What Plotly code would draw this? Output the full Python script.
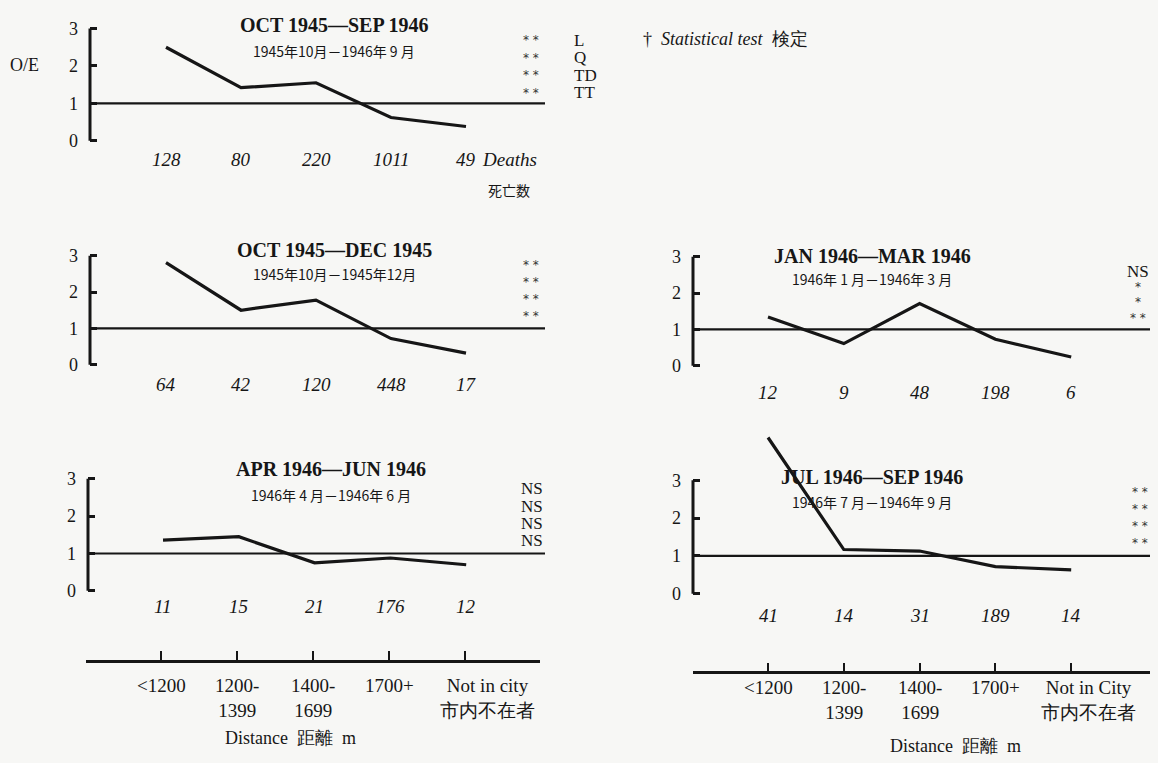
import plotly.graph_objects as go

W, H = 1158, 763

# ---- data -------------------------------------------------------------
distance_labels = ["<1200", "1200-<br>1399", "1400-<br>1699", "1700+"]
not_in_city_a = "Not in city<br>市内不在者"
not_in_city_b = "Not in City<br>市内不在者"

titles = ["OCT 1945—SEP 1946", "OCT 1945—DEC 1945", "APR 1946—JUN 1946",
          "JAN 1946—MAR 1946", "JUL 1946—SEP 1946"]
subtitles = ["1945年10月－1946年 9 月", "1945年10月－1945年12月",
             "1946年 4 月－1946年 6 月", "1946年 1 月－1946年 3 月",
             "1946年 7 月－1946年 9 月"]

oe_oct_sep = [2.50, 1.42, 1.55, 0.62, 0.38]
oe_oct_dec = [2.81, 1.50, 1.78, 0.72, 0.32]
oe_apr_jun = [1.36, 1.45, 0.75, 0.88, 0.70]
oe_jan_mar = [1.34, 0.61, 1.71, 0.73, 0.24]
oe_jul_sep = [4.13, 1.17, 1.13, 0.72, 0.63]

deaths_oct_sep = [128, 80, 220, 1011, 49]
deaths_oct_dec = [64, 42, 120, 448, 17]
deaths_apr_jun = [11, 15, 21, 176, 12]
deaths_jan_mar = [12, 9, 48, 198, 6]
deaths_jul_sep = [41, 14, 31, 189, 14]

tests = ["L", "Q", "TD", "TT"]
sig_oct_sep = ["**", "**", "**", "**"]
sig_oct_dec = ["**", "**", "**", "**"]
sig_apr_jun = ["NS", "NS", "NS", "NS"]
sig_jan_mar = ["NS", "*", "*", "**"]
sig_jul_sep = ["**", "**", "**", "**"]

INK = "#161616"
SERIF = "Liberation Serif"
CJK = "Noto Sans CJK JP"

# ---- panel geometry (pixels) -------------------------------------------
# x0/x1: extent of the reference line, first/step: category spacing,
# zero/ppu: pixel row of O/E = 0 and pixels per unit, ytop: top of range
panels = [
    dict(oe=oe_oct_sep, deaths=deaths_oct_sep, sig=sig_oct_sep,
         x0=90, x1=545, first=166, step=75, zero=137, ppu=38, ytop=3.1,
         doff=19, title_xy=(334, 19), sub_y=46, sig_x=531, sig_y=35, sig_dy=17.7),
    dict(oe=oe_oct_dec, deaths=deaths_oct_dec, sig=sig_oct_dec,
         x0=90, x1=545, first=166, step=75, zero=365, ppu=37, ytop=3.1,
         doff=20, title_xy=(334, 248), sub_y=273, sig_x=531, sig_y=263, sig_dy=17.5),
    dict(oe=oe_apr_jun, deaths=deaths_apr_jun, sig=sig_apr_jun,
         x0=88, x1=545, first=163, step=75.8, zero=595, ppu=38, ytop=3.1,
         doff=16, title_xy=(331, 471), sub_y=497, sig_x=532, sig_y=491, sig_dy=17.7),
    dict(oe=oe_jan_mar, deaths=deaths_jan_mar, sig=sig_jan_mar,
         x0=693, x1=1150, first=768, step=75.8, zero=366, ppu=37, ytop=3.1,
         doff=27, title_xy=(872, 254), sub_y=278, sig_x=1138, sig_y=270, sig_dy=15.7),
    dict(oe=oe_jul_sep, deaths=deaths_jul_sep, sig=sig_jul_sep,
         x0=693, x1=1150, first=768, step=75.8, zero=598, ppu=38.5, ytop=4.3,
         doff=22, title_xy=(872, 479), sub_y=505, sig_x=1140, sig_y=494, sig_dy=17.3),
]


def px(x):
    return x / W


def py(y):
    return 1 - y / H


def label(x, y, text, size=18, family=SERIF, xanchor="center", color=INK, **kw):
    """Text placed by pixel position on the page."""
    return dict(x=px(x), y=py(y), xref="paper", yref="paper", text=text,
                xanchor=xanchor, yanchor="middle", showarrow=False,
                font=dict(family=family, size=size, color=color), **kw)


fig = go.Figure()
layout = dict(
    width=W, height=H, margin=dict(l=0, r=0, t=0, b=0),
    paper_bgcolor="#f7f7f5", plot_bgcolor="rgba(0,0,0,0)",
    showlegend=False,
)
annotations = []
shapes = []

for i, p in enumerate(panels, start=1):
    xn = "x" if i == 1 else f"x{i}"
    yn = "y" if i == 1 else f"y{i}"
    xr = [(p["x0"] - p["first"]) / p["step"], (p["x1"] - p["first"]) / p["step"]]
    ylo = -0.1
    layout[f"xaxis{i}"] = dict(
        domain=[px(p["x0"]), px(p["x1"])], range=xr, anchor=yn, visible=False,
    )
    layout[f"yaxis{i}"] = dict(
        domain=[py(p["zero"] - ylo * p["ppu"]), py(p["zero"] - p["ytop"] * p["ppu"])],
        range=[ylo, p["ytop"]], anchor=xn,
        tickvals=[0, 1, 2, 3], ticks="inside", ticklen=7, tickwidth=2.5,
        tickcolor=INK, showline=False, showgrid=False, zeroline=False,
        ticklabelstandoff=11, tickfont=dict(family=SERIF, size=18, color=INK),
    )
    # O/E curve
    fig.add_trace(go.Scatter(
        x=list(range(len(p["oe"]))), y=p["oe"], mode="lines",
        line=dict(color=INK, width=3.2), xaxis=xn, yaxis=yn, hoverinfo="skip",
    ))
    # axis bracket 0..3 and the O/E = 1 reference line
    shapes.append(dict(type="line", xref=f"{xn} domain", yref=yn,
                       x0=0, x1=0, y0=0, y1=3, line=dict(color=INK, width=3)))
    shapes.append(dict(type="line", xref=f"{xn} domain", yref=yn,
                       x0=0, x1=1, y0=1, y1=1, line=dict(color=INK, width=2.2)))
    # death counts under each category
    for j, d in enumerate(p["deaths"]):
        annotations.append(dict(
            x=j, y=0, xref=xn, yref=yn, yshift=-p["doff"], text=f"<i>{d}</i>",
            xanchor="center", yanchor="middle", showarrow=False,
            font=dict(family=SERIF, size=19, color=INK),
        ))
    # titles
    tx, ty = p["title_xy"]
    annotations.append(label(tx, ty, f"<b>{titles[i-1]}</b>", size=20))
    annotations.append(label(tx, p["sub_y"], subtitles[i-1], size=14, family=CJK))
    # significance marks
    for k, s in enumerate(p["sig"]):
        is_ns = s == "NS"
        annotations.append(label(p["sig_x"], p["sig_y"] + k * p["sig_dy"],
                                 s if is_ns else " ".join(s),
                                 size=17 if is_ns else 12,
                                 family=SERIF if is_ns else "DejaVu Sans",
                                 color=INK if is_ns else "#333333"))

# "Deaths" caption and test names on the first panel
annotations.append(dict(x=4, y=0, xref="x", yref="y", yshift=-19, xshift=14,
                        xanchor="left", yanchor="middle", text="<i>Deaths</i>",
                        showarrow=False, font=dict(family=SERIF, size=19, color=INK)))
annotations.append(label(509, 187, "死亡数", size=14, family=CJK))
for k, t in enumerate(tests):
    annotations.append(label(572, 35 + k * 17.7, t, size=17, xanchor="left"))
annotations.append(label(24, 60, "O/E"))
annotations.append(label(641, 34, "†  <i>Statistical test</i>  検定", size=18,
                         xanchor="left"))

# ---- distance axes under the bottom panels -----------------------------
dist_axes = [
    dict(n=6, x0=86, x1=540, first=161, step=76, line_y=665, lab_y=679,
         last=not_in_city_a, last_shift=22, cap_xy=(290, 745)),
    dict(n=7, x0=693, x1=1150, first=768, step=75.8, line_y=677, lab_y=681,
         last=not_in_city_b, last_shift=17, cap_xy=(955, 753)),
]
for a in dist_axes:
    n = a["n"]
    xr = [(a["x0"] - a["first"]) / a["step"], (a["x1"] - a["first"]) / a["step"]]
    layout[f"xaxis{n}"] = dict(
        domain=[px(a["x0"]), px(a["x1"])], range=xr, anchor=f"y{n}",
        showline=True, linewidth=2.6, linecolor=INK, ticks="inside", ticklen=9,
        tickwidth=2.4, tickcolor=INK, tickvals=list(range(5)), showticklabels=False,
        showgrid=False, zeroline=False,
    )
    layout[f"yaxis{n}"] = dict(
        domain=[py(a["line_y"]), py(a["line_y"]) + 0.02], range=[0, 1],
        anchor=f"x{n}", visible=False,
    )
    fig.add_trace(go.Scatter(x=[0], y=[0], mode="markers", marker=dict(opacity=0),
                             xaxis=f"x{n}", yaxis=f"y{n}", hoverinfo="skip"))
    labels = distance_labels + [a["last"]]
    for j, lab in enumerate(labels):
        annotations.append(dict(
            x=j, y=py(a["lab_y"]), xref=f"x{n}", yref="paper",
            xanchor="center", yanchor="top",
            xshift=a["last_shift"] if j == 4 else 0,
            text=lab, showarrow=False, align="center",
            font=dict(family=SERIF, size=19, color=INK),
        ))
    cx, cy = a["cap_xy"]
    annotations.append(label(cx, cy, "Distance  距離  m", size=18))

layout["annotations"] = annotations
layout["shapes"] = shapes
fig.update_layout(**layout)
fig.write_html("out.html")
